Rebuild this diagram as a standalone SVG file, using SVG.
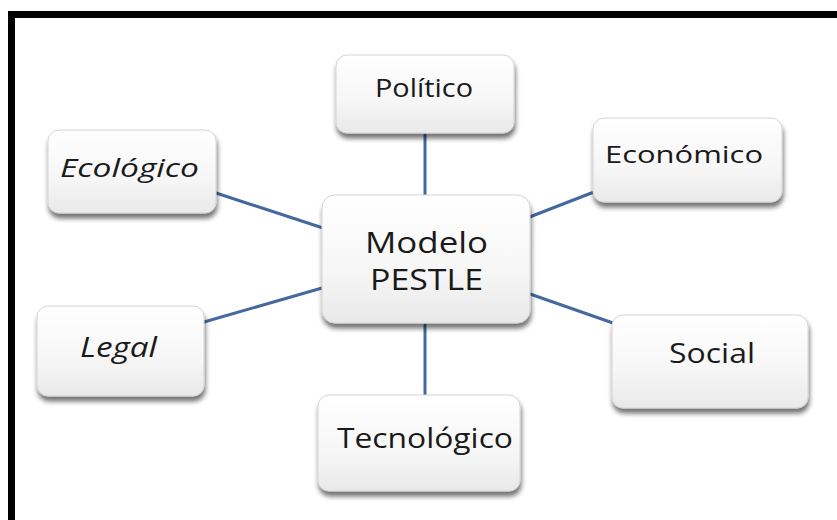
<svg xmlns="http://www.w3.org/2000/svg" width="837" height="520" viewBox="0 0 837 520">
<defs>
  <linearGradient id="boxGrad" x1="0" y1="0" x2="0" y2="1">
    <stop offset="0" stop-color="#ffffff"/>
    <stop offset="0.6" stop-color="#f6f6f6"/>
    <stop offset="1" stop-color="#e9e9e9"/>
  </linearGradient>
  <filter id="shadow" x="-10%" y="-10%" width="125%" height="130%">
    <feGaussianBlur in="SourceAlpha" stdDeviation="2.5"/>
    <feOffset dx="1" dy="5" result="b"/>
    <feComponentTransfer><feFuncA type="linear" slope="0.55"/></feComponentTransfer>
    <feMerge><feMergeNode/><feMergeNode in="SourceGraphic"/></feMerge>
  </filter>
</defs>
<style>
  .box { fill: url(#boxGrad); stroke: #d4d4d4; stroke-width: 1; filter: url(#shadow); }
  .lbl { font-family: "Open Sans", "Liberation Sans", sans-serif; fill: #1a1a1a; text-anchor: start; }
  .edge { stroke: #4468a0; stroke-width: 3; fill: none; stroke-linecap: round; }
  .frame { stroke: #000000; stroke-width: 7; fill: none; }
</style>
<rect x="0" y="0" width="837" height="520" fill="#ffffff"/>
<path class="frame" d="M11.5 520 V14.5 H837"/>

<g id="connectors">
  <line class="edge" x1="425" y1="135" x2="425" y2="195"/>
  <line class="edge" x1="216" y1="193" x2="323" y2="228"/>
  <line class="edge" x1="204" y1="322" x2="322" y2="288"/>
  <line class="edge" x1="425" y1="325" x2="425" y2="395"/>
  <line class="edge" x1="527" y1="218" x2="594" y2="192"/>
  <line class="edge" x1="530" y1="294" x2="613" y2="323"/>
</g>

<g id="node-politico">
  <rect class="box" x="336" y="55" width="178" height="78" rx="11"/>
  <text class="lbl" x="375" y="97" font-size="25" textLength="98" lengthAdjust="spacingAndGlyphs">Político</text>
</g>
<g id="node-ecologico">
  <rect class="box" x="48" y="130" width="168" height="83" rx="11"/>
  <text class="lbl" x="60" y="177" font-size="25" font-style="italic" textLength="139" lengthAdjust="spacingAndGlyphs">Ecológico</text>
</g>
<g id="node-economico">
  <rect class="box" x="593" y="118" width="189" height="84" rx="11"/>
  <text class="lbl" x="605" y="163" font-size="24" textLength="158" lengthAdjust="spacingAndGlyphs">Económico</text>
</g>
<g id="node-modelo">
  <rect class="box" x="322" y="195" width="208" height="128" rx="13"/>
  <text class="lbl" x="365" y="253" font-size="30" textLength="123" lengthAdjust="spacingAndGlyphs">Modelo</text>
  <text class="lbl" x="370" y="290" font-size="30" textLength="113" lengthAdjust="spacingAndGlyphs">PESTLE</text>
</g>
<g id="node-legal">
  <rect class="box" x="37" y="306" width="167" height="90" rx="11"/>
  <text class="lbl" x="80" y="357" font-size="27" font-style="italic" textLength="77" lengthAdjust="spacingAndGlyphs">Legal</text>
</g>
<g id="node-social">
  <rect class="box" x="612" y="315" width="196" height="93" rx="11"/>
  <text class="lbl" x="669" y="363" font-size="28" textLength="86" lengthAdjust="spacingAndGlyphs">Social</text>
</g>
<g id="node-tecnologico">
  <rect class="box" x="318" y="395" width="202" height="96" rx="11"/>
  <text class="lbl" x="337" y="448" font-size="28" textLength="176" lengthAdjust="spacingAndGlyphs">Tecnológico</text>
</g>
</svg>
